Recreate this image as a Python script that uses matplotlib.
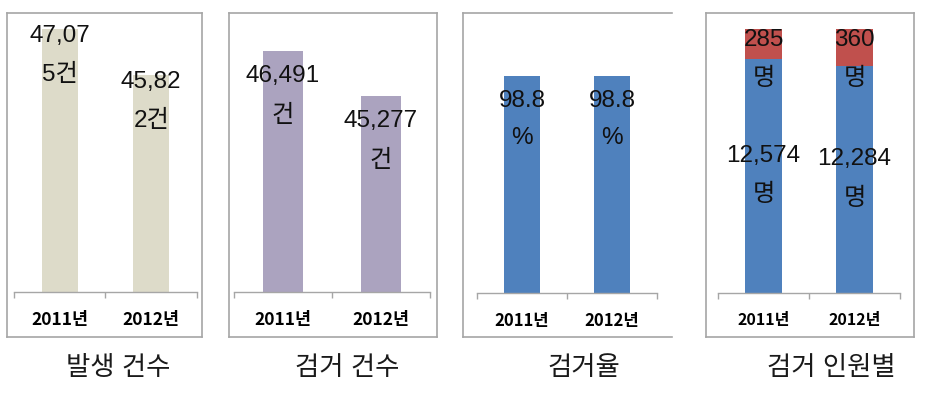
import matplotlib

matplotlib.use("Agg")
import matplotlib.pyplot as plt
from matplotlib.lines import Line2D

plt.rcParams["font.family"] = ["Liberation Sans", "Noto Sans CJK KR"]

W, H = 928, 400

years = ["2011년", "2012년"]

# 발생 건수 / 검거 건수
occurred = [47075, 45822]
arrested_cases = [46491, 45277]
# 검거율 (%)
arrest_rate = [98.8, 98.8]
# 검거 인원 (명): blue / red labels
people_main = [12574, 12284]
people_other = [285, 360]
# share of the 100% stacked bar taken by each segment
main_share = [88.6, 86.0]
other_share = [11.4, 14.0]

titles = ["발생 건수", "검거 건수", "검거율", "검거 인원별"]

GRID = "#a6a6a6"
BLUE = "#4f81bd"
RED = "#c0504d"


def fx(x):
    return x / W


def fy(y):
    return 1 - y / H


def frame(fig, left, top, right, bottom, sides=("l", "t", "r", "b")):
    segs = {
        "l": ([left, left], [top, bottom]),
        "r": ([right, right], [top, bottom]),
        "t": ([left, right], [top, top]),
        "b": ([left, right], [bottom, bottom]),
    }
    for s in sides:
        xs, ys = segs[s]
        fig.add_artist(Line2D([fx(v) for v in xs], [fy(v) for v in ys],
                              transform=fig.transFigure, color=GRID, lw=1.2))


def make_axes(fig, x0, x1, y_axis, top=13, label_size=12.5):
    ax = fig.add_axes([fx(x0), fy(y_axis), (x1 - x0) / W, (y_axis - top) / H])
    ax.set_xlim(-0.5, 1.5)
    for s in ("left", "top", "right"):
        ax.spines[s].set_visible(False)
    ax.spines["bottom"].set_color(GRID)
    ax.spines["bottom"].set_linewidth(1.0)
    ax.set_yticks([])
    ax.set_xticks([0, 1], years)
    ax.set_xticks([-0.5, 0.5, 1.5], minor=True)
    ax.tick_params(axis="x", which="major", length=0, pad=14)
    ax.tick_params(axis="x", which="minor", length=4.3, color=GRID, width=1.0)
    for lab in ax.get_xticklabels():
        lab.set_fontweight("bold")
        lab.set_fontsize(label_size)
        lab.set_family(["Liberation Sans Narrow", "Noto Sans CJK KR"])
    ax.patch.set_visible(False)
    return ax


def two_line(ax, x, y, first, second, d1, d2, size=17.5):
    # d1/d2: downward pixel offsets of the two line centres from (x, y)
    for txt, d in ((first, d1), (second, d2)):
        ax.annotate(txt, (x, y), xytext=(0, -d), textcoords="offset pixels",
                    ha="center", va="center", fontsize=size, color="#111111",
                    annotation_clip=False)


fig = plt.figure(figsize=(W / 100, H / 100), dpi=100)

# panel 1: 발생 건수
frame(fig, 7, 13, 202, 337)
ax = make_axes(fig, 14, 197, 292)
ax.set_ylim(40000, 47500)
ax.bar([0, 1], occurred, width=0.39, color="#dddbc9")
for i, v in enumerate(occurred):
    s = f"{v:,}건"
    two_line(ax, i, v, s[:5], s[5:], 7, 46)

# panel 2: 검거 건수
frame(fig, 229, 13, 437, 337)
ax = make_axes(fig, 234, 430, 292)
ax.set_ylim(40000, 47500)
ax.bar([0, 1], arrested_cases, width=0.4, color="#aba3bf")
for i, v in enumerate(arrested_cases):
    s = f"{v:,}건"
    two_line(ax, i, v, s[:6], s[6:], 25, 65)

# panel 3: 검거율
frame(fig, 463, 13, 672, 337, sides=("l", "t", "b"))
ax = make_axes(fig, 477, 657, 293, label_size=12)
ax.set_ylim(0, 127.5)
ax.bar([0, 1], arrest_rate, width=0.39, color=BLUE)
for i, v in enumerate(arrest_rate):
    two_line(ax, i, v, f"{v}", "%", 25, 62)

# panel 4: 검거 인원별
frame(fig, 706, 13, 914, 337)
ax = make_axes(fig, 718, 900, 293, label_size=11.5)
ax.set_ylim(0, 106)
ax.bar([0, 1], main_share, width=0.4, color=BLUE)
ax.bar([0, 1], other_share, bottom=main_share, width=0.4, color=RED)
for i in range(2):
    total = main_share[i] + other_share[i]
    two_line(ax, i, total, f"{people_other[i]:,}", "명", 11, 50)
    two_line(ax, i, main_share[i] / 2, f"{people_main[i]:,}", "명", -20, 19)

# captions under each panel
for cx, t in zip([118, 347, 584, 831], titles):
    fig.text(fx(cx), fy(368), t, ha="center", va="center", fontsize=19,
             color="#1a1a1a")

fig.savefig("out.png", dpi=100)
